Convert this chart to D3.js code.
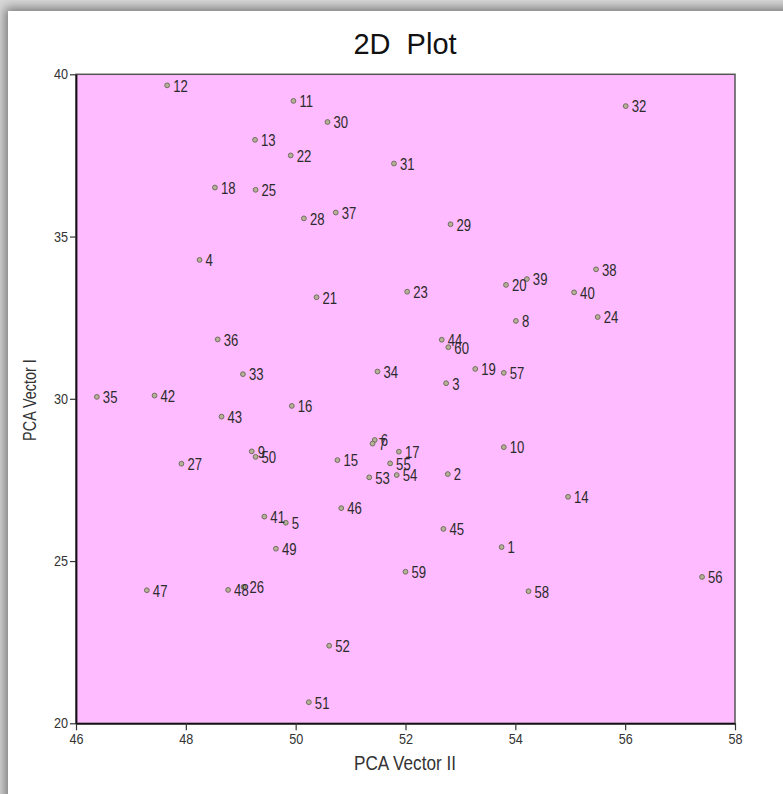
<!DOCTYPE html>
<html>
<head>
<meta charset="utf-8">
<script src="https://cdn.jsdelivr.net/npm/d3@7"></script>
<style>
  body { margin: 0; width: 783px; height: 794px; overflow: hidden; background: #d8d8d8; position: relative; }
  #card { position: absolute; left: 8px; top: 11px; width: 900px; height: 900px; background: #fff;
          box-shadow: 0 0 10px 3px rgba(0,0,0,0.45); }
  #chart { position: absolute; left: 0; top: 0; }
  text { font-family: "Liberation Sans", Arial, sans-serif; }
</style>
</head>
<body>
<div id="card"></div>
<div id="chart"></div>
<script>
// sample ids and PCA coordinates
var pointIds = [1,2,3,4,5,6,7,8,9,10,11,12,13,14,15,16,17,18,19,20,
                21,22,23,24,25,26,27,28,29,30,31,32,33,34,35,36,37,38,39,40,
                41,42,43,44,45,46,47,48,49,50,51,52,53,54,55,56,57,58,59,60];

// PCA Vector II (horizontal)
var vectorII = [53.75,52.77,52.74,48.25,49.82,51.44,51.40,54.01,49.20,53.79,
                49.96,47.66,49.26,54.96,50.76,49.93,51.88,48.53,53.27,53.83,
                50.38,49.91,52.03,55.50,49.27,49.05,47.92,50.15,52.82,50.58,
                51.79,56.01,49.04,51.49,46.38,48.58,50.73,55.47,54.21,55.07,
                49.43,47.43,48.65,52.66,52.69,50.83,47.29,48.77,49.64,49.27,
                50.24,50.61,51.34,51.84,51.72,57.40,53.79,54.24,52.00,52.78];

// PCA Vector I (vertical)
var vectorI = [25.43,27.68,30.48,34.28,26.18,28.73,28.62,32.40,28.38,28.51,
               39.18,39.66,37.98,26.98,28.11,29.78,28.37,36.51,30.92,33.51,
               33.13,37.50,33.30,32.52,36.44,24.20,28.00,35.56,35.38,38.53,
               37.25,39.02,30.76,30.84,30.06,31.83,35.74,33.99,33.69,33.28,
               26.37,30.10,29.45,31.82,25.99,26.63,24.10,24.11,25.38,28.21,
               20.65,22.39,27.58,27.65,28.01,24.51,30.80,24.07,24.67,31.59];

var xTicks = [46, 48, 50, 52, 54, 56, 58];
var yTicks = [20, 25, 30, 35, 40];

var W = 783, H = 794;
var margin = {top: 74.3, right: 48, bottom: 70.7, left: 76};
var squeeze = 0.82;   // point labels in the picture are drawn narrow
var tickSqueeze = 0.87;

var points = pointIds.map(function(id, i) {
  return {id: id, x: vectorII[i], y: vectorI[i]};
});

var svg = d3.select("#chart").append("svg")
    .attr("width", W)
    .attr("height", H);

var x = d3.scaleLinear().domain([46, 58]).range([margin.left, W - margin.right]);
var y = d3.scaleLinear().domain([20, 40]).range([H - margin.bottom, margin.top]);

// plot panel
svg.append("rect")
   .attr("x", x(46)).attr("y", y(40))
   .attr("width", x(58) - x(46)).attr("height", y(20) - y(40))
   .attr("fill", "#ffbbff")
   .attr("stroke", "#555")
   .attr("stroke-width", 1.5);

// axes
var xAxis = svg.append("g")
   .attr("transform", "translate(0," + y(20) + ")")
   .call(d3.axisBottom(x).tickValues(xTicks).tickSize(7).tickSizeOuter(0).tickFormat(d3.format("d")));
var yAxis = svg.append("g")
   .attr("transform", "translate(" + x(46) + ",0)")
   .call(d3.axisLeft(y).tickValues(yTicks).tickSize(6).tickSizeOuter(0).tickFormat(d3.format("d")));

[xAxis, yAxis].forEach(function(ax) {
  ax.attr("font-size", 14.5).attr("font-family", "'Liberation Sans', Arial, sans-serif");
  ax.select(".domain").attr("stroke", "#111").attr("stroke-width", 1.8);
  ax.selectAll(".tick line").attr("stroke", "#333").attr("stroke-width", 1.2);
  ax.selectAll(".tick text").attr("fill", "#333");
});
xAxis.selectAll(".tick text").attr("y", 10).attr("dy", "0.71em").attr("x", 0)
     .attr("transform", "scale(" + tickSqueeze + ",1)");
yAxis.selectAll(".tick text").attr("x", -8 / tickSqueeze)
     .attr("transform", "scale(" + tickSqueeze + ",1)");

// points
svg.append("g").selectAll("circle")
   .data(points)
   .enter()
   .append("circle")
     .attr("cx", function(d) { return x(d.x); })
     .attr("cy", function(d) { return y(d.y); })
     .attr("r", 2.4)
     .attr("fill", "#b8b098")
     .attr("stroke", "#6e6e5e")
     .attr("stroke-width", 1);

// point labels
svg.append("g").selectAll("text")
   .data(points)
   .enter()
   .append("text")
     .attr("transform", function(d) {
       return "translate(" + (x(d.x) + 6) + "," + (y(d.y) + 6.3) + ") scale(" + squeeze + ",1)";
     })
     .attr("font-size", 16)
     .attr("fill", "#2b2b2b")
     .text(function(d) { return d.id; });

// title
svg.append("text")
   .attr("x", 405).attr("y", 54)
   .attr("text-anchor", "middle")
   .attr("font-size", 29)
   .style("white-space", "pre")
   .attr("fill", "#111")
   .text("2D  Plot");

// axis titles
svg.append("text")
   .attr("transform", "translate(405,770) scale(0.88,1)")
   .attr("text-anchor", "middle")
   .attr("font-size", 19.5)
   .attr("fill", "#333")
   .text("PCA Vector II");

svg.append("text")
   .attr("transform", "translate(35.5,400) rotate(-90) scale(0.78,1)")
   .attr("text-anchor", "middle")
   .attr("font-size", 18.5)
   .attr("fill", "#333")
   .text("PCA Vector I");
</script>
</body>
</html>
